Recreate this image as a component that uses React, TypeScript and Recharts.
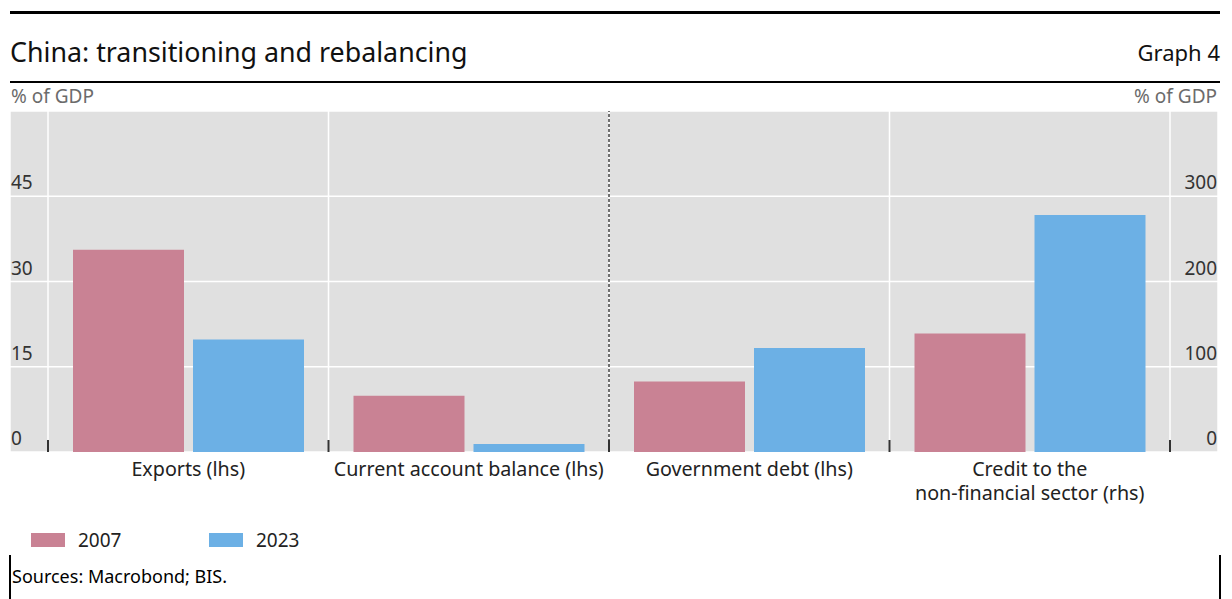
import React from "react";
import { BarChart, Bar, XAxis, YAxis, CartesianGrid, ReferenceLine, Legend } from "recharts";

// Categories and values (% of GDP)
const categories = [
  "Exports (lhs)",
  "Current account balance (lhs)",
  "Government debt (lhs)",
  "Credit to the\nnon-financial sector (rhs)",
];
const lhs2007 = [35.6, 9.9, 12.4, null];
const lhs2023 = [19.8, 1.4, 18.3, null];
const rhs2007 = [null, null, null, 139];
const rhs2023 = [null, null, null, 278];

const lhsTicks = [0, 15, 30, 45];
const rhsTicks = [0, 100, 200, 300];
const boundaryTicks = [0, 1, 2, 3, 4]; // panel edges, 2 = dashed split

const FONT = "'Noto Sans', 'Open Sans', sans-serif";
const PINK = "#c98294";
const BLUE = "#6cb0e5";
const BG = "#e0e0e0";
const TEXT = "#222";

const W = 1232;
const H = 599;
const PLOT_LEFT = 10;
const PLOT_RIGHT = 1218;
const PLOT_TOP = 111;
const PLOT_BOTTOM = 452;

const data = categories.map((name, i) => ({
  name,
  pos: i + 0.5,
  l07: lhs2007[i],
  l23: lhs2023[i],
  r07: rhs2007[i],
  r23: rhs2023[i],
}));

const LeftTick = (props: any) => (
  <text x={PLOT_LEFT + 1} y={props.y - 7} textAnchor="start" fontSize={19} fill="#333" fontFamily={FONT}>
    {props.payload.value}
  </text>
);

const RightTick = (props: any) => (
  <text x={PLOT_RIGHT - 1} y={props.y - 7} textAnchor="end" fontSize={19} fill="#333" fontFamily={FONT}>
    {props.payload.value}
  </text>
);

const CategoryTick = (props: any) => {
  const { x, payload } = props;
  const lines = String(payload.value).split("\n");
  return (
    <text x={x} y={PLOT_BOTTOM + 24} textAnchor="middle" fontSize={19.7} fill={TEXT} fontFamily={FONT}>
      {lines.map((l, i) => (
        <tspan key={i} x={x} dy={i === 0 ? 0 : 24}>
          {l}
        </tspan>
      ))}
    </text>
  );
};

// small inward tick at each panel edge
const BoundaryTick = (props: any) => (
  <line x1={props.x} x2={props.x} y1={PLOT_BOTTOM} y2={PLOT_BOTTOM - 12} stroke="#333" strokeWidth={2} />
);

const LegendContent = (props: any) => {
  const items = (props.payload || []).filter((p: any) => p.type !== "none");
  return (
    <div style={{ display: "flex", fontFamily: FONT }}>
      {items.map((p: any) => (
        <div key={p.value} style={{ display: "flex", alignItems: "center", width: 178 }}>
          <span style={{ display: "inline-block", width: 34, height: 14, background: p.color, marginRight: 13 }} />
          <span style={{ fontSize: 19, color: TEXT }}>{p.value}</span>
        </div>
      ))}
    </div>
  );
};

export default function App() {
  return (
    <div style={{ position: "absolute", left: 0, top: 0, width: W, height: H, background: "#fff", fontFamily: FONT, overflow: "hidden" }}>
      {/* header rules and title */}
      <div style={{ position: "absolute", left: 10, top: 11, width: 1210, height: 2.5, background: "#000" }} />
      <div style={{ position: "absolute", left: 10, top: 33, fontSize: 26.8, color: "#111", whiteSpace: "nowrap" }}>
        China: transitioning and rebalancing
      </div>
      <div style={{ position: "absolute", right: 12, top: 37, fontSize: 22, color: "#111" }}>Graph 4</div>
      <div style={{ position: "absolute", left: 10, top: 81, width: 1210, height: 2, background: "#000" }} />
      <div style={{ position: "absolute", left: 11, top: 83, fontSize: 19, color: "#6b6b6b" }}>% of GDP</div>
      <div style={{ position: "absolute", right: 15, top: 83, fontSize: 19, color: "#6b6b6b" }}>% of GDP</div>

      <div style={{ position: "absolute", left: 0, top: 0 }}>
        <BarChart
          width={W}
          height={H}
          data={data}
          margin={{ top: PLOT_TOP, right: W - PLOT_RIGHT - 1, left: PLOT_LEFT - 1, bottom: H - PLOT_BOTTOM - 61 }}
          barCategoryGap={25}
          barGap={9}
        >
          <CartesianGrid xAxisId="b" yAxisId="l" fill={BG} stroke="#fff" strokeWidth={1.5} />
          <XAxis
            xAxisId="c"
            dataKey="name"
            type="category"
            padding={{ left: 38, right: 48 }}
            axisLine={false}
            tickLine={false}
            interval={0}
            height={60}
            tick={<CategoryTick />}
          />
          <XAxis
            xAxisId="b"
            dataKey="pos"
            type="number"
            domain={[0, 4]}
            ticks={boundaryTicks}
            padding={{ left: 38, right: 48 }}
            axisLine={false}
            tickLine={false}
            height={1}
            tick={<BoundaryTick />}
          />
          <YAxis yAxisId="l" domain={[0, 60]} ticks={lhsTicks} width={1} axisLine={false} tickLine={false} tick={<LeftTick />} />
          <YAxis
            yAxisId="r"
            orientation="right"
            domain={[0, 400]}
            ticks={rhsTicks}
            width={1}
            axisLine={false}
            tickLine={false}
            tick={<RightTick />}
          />
          <ReferenceLine xAxisId="b" yAxisId="l" x={2} stroke="#444" strokeWidth={1.5} strokeDasharray="3 2" />
          <Bar name="2007" xAxisId="c" yAxisId="l" dataKey="l07" stackId="a" fill={PINK} isAnimationActive={false} />
          <Bar name="2023" xAxisId="c" yAxisId="l" dataKey="l23" stackId="b" fill={BLUE} isAnimationActive={false} />
          <Bar name="2007 rhs" xAxisId="c" yAxisId="r" dataKey="r07" stackId="a" fill={PINK} legendType="none" isAnimationActive={false} />
          <Bar name="2023 rhs" xAxisId="c" yAxisId="r" dataKey="r23" stackId="b" fill={BLUE} legendType="none" isAnimationActive={false} />
          <Legend
            layout="horizontal"
            verticalAlign="middle"
            align="center"
            wrapperStyle={{ top: 527, left: 31, width: 400 }}
            content={<LegendContent />}
          />
        </BarChart>
      </div>

      {/* source note */}
      <div style={{ position: "absolute", left: 9, top: 555, width: 2, height: 44, background: "#000" }} />
      <div style={{ position: "absolute", left: 1219, top: 555, width: 2, height: 44, background: "#000" }} />
      <div style={{ position: "absolute", left: 12, top: 564, fontSize: 18, color: "#000" }}>Sources: Macrobond; BIS.</div>
    </div>
  );
}
